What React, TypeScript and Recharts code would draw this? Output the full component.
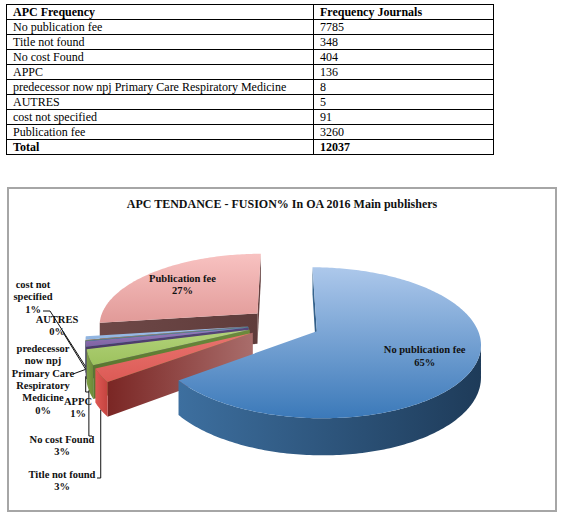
import React from "react"
import { PieChart, Pie } from "recharts"

// table / chart data
const categories = [
  "No publication fee",
  "Title not found",
  "No cost Found",
  "APPC",
  "predecessor now npj Primary Care Respiratory Medicine",
  "AUTRES",
  "cost not specified",
  "Publication fee",
]
const journals = [7785, 348, 404, 136, 8, 5, 91, 3260]
const total = 12037

// how each slice label is wrapped on the chart
const sliceLabelLines = [
  ["No publication fee"],
  ["Title not found"],
  ["No cost Found"],
  ["APPC"],
  ["predecessor", "now npj", "Primary Care", "Respiratory", "Medicine"],
  ["AUTRES"],
  ["cost not", "specified"],
  ["Publication fee"],
]

// slice colours: top gradient (light, dark), outer wall, cut face
const TOP = [
  ["#adc8eb", "#3b79b9"],
  ["#e8746f", "#dc5a55"],
  ["#b2d27a", "#9dc25e"],
  ["#9a80bd", "#7e62a2"],
  ["#5fb8d0", "#4babc5"],
  ["#f9a45e", "#f79646"],
  ["#a3c2e8", "#8eb3e0"],
  ["#f8c2c1", "#e19a98"],
]
const WALL = [
  ["#3d6f9f", "#1e3b59"],
  ["#de5954", "#c4433f"],
  ["#7f9f46", "#6c8a39"],
  ["#5e4a7d", "#52406e"],
  ["#31859c", "#2b7488"],
  ["#b66d31", "#a5622b"],
  ["#5f83ae", "#52739b"],
  ["#c07d7c", "#a96a69"],
]
const FACE = [
  ["#3a6891", "#2f5a84"],
  ["#7a2624", "#a96d6b"],
  ["#5a7730", "#6b8a3c"],
  ["#4a3a66", "#57467a"],
  ["#2b7488", "#31859c"],
  ["#a5622b", "#b66d31"],
  ["#4a6a92", "#5a7ca6"],
  ["#6e4847", "#5f3c3b"],
]

// where the outside labels sit (first baseline) and where their leader starts
const OUTSIDE: Record<number, { x: number; y: number; from: number[]; kind: string }> = {
  1: { x: 62, y: 478, from: [97, 478], kind: "elbow" },
  2: { x: 62, y: 443, from: [92, 436], kind: "elbow" },
  3: { x: 78, y: 405, from: [89, 392], kind: "elbow" },
  4: { x: 43, y: 352, from: [73, 374], kind: "line" },
  5: { x: 57, y: 323, from: [64, 334], kind: "line" },
  6: { x: 33, y: 288, from: [43, 311], kind: "stub" },
}

// 3D look: camera distance (in radii), tilt, wall height, explode
const CAM_D = 6.7
const TILT = 0.45
const DEPTH = 31
const EXPLODE = 0.227
const LINE_H = 12.3
const FONT = '"Liberation Serif", "Times New Roman", serif'

const rad = (d: number) => (d * Math.PI) / 180
const pathOf = (pts: number[][]) =>
  "M" + pts.map((p) => `${p[0].toFixed(2)},${p[1].toFixed(2)}`).join(" L") + " Z"

function geometry(props: any) {
  const { cx, cy, outerRadius: S, startAngle, endAngle } = props
  const sA = Math.min(startAngle, endAngle)
  const eA = Math.max(startAngle, endAngle)
  const mid = (sA + eA) / 2
  const o = [EXPLODE * Math.cos(rad(mid)), -EXPLODE * Math.sin(rad(mid))]
  const ground = (deg: number, r = 1) => [o[0] + r * Math.cos(rad(deg)), o[1] - r * Math.sin(rad(deg))]
  const proj = (g: number[], z = 0) => {
    const w = CAM_D / (CAM_D - g[1])
    return [cx + S * g[0] * w, cy + (S * TILT * g[1] + DEPTH * z) * w]
  }
  const seen = (g: number[], n: number[]) => n[0] * (0 - g[0]) + n[1] * (CAM_D - g[1]) > 0
  return { sA, eA, mid, o, ground, proj, seen }
}

function Slice3D(props: any) {
  const i: number = props.payload?.idx ?? props.idx
  const { sA, eA, o, ground, proj, seen } = geometry(props)

  const steps = Math.max(2, Math.ceil(eA - sA))
  const angles = Array.from({ length: steps + 1 }, (_, k) => sA + ((eA - sA) * k) / steps)

  const top = pathOf([proj(o), ...angles.map((a) => proj(ground(a)))])

  // outer curved wall, only the runs that face the camera
  const walls: string[] = []
  let run: number[] = []
  const flush = () => {
    if (run.length > 1) {
      const up = run.map((a) => proj(ground(a)))
      const down = run.map((a) => proj(ground(a), 1)).reverse()
      walls.push(pathOf([...up, ...down]))
    }
    run = []
  }
  angles.forEach((a) => {
    if (seen(ground(a), [Math.cos(rad(a)), -Math.sin(rad(a))])) run.push(a)
    else flush()
  })
  flush()

  // flat cut faces along both radii
  const faces: string[] = []
  const face = (a: number, nDeg: number) => {
    if (seen(o, [Math.cos(rad(nDeg)), -Math.sin(rad(nDeg))]))
      faces.push(pathOf([proj(o), proj(ground(a)), proj(ground(a), 1), proj(o, 1)]))
  }
  face(sA, sA - 90)
  face(eA, eA + 90)

  return (
    <g>
      <defs>
        <linearGradient id={`top${i}`} x1="0" y1="0" x2="0" y2="1">
          <stop offset="0%" stopColor={TOP[i][0]} />
          <stop offset="100%" stopColor={TOP[i][1]} />
        </linearGradient>
        <linearGradient id={`wall${i}`} x1="0" y1="0" x2="1" y2="0">
          <stop offset="0%" stopColor={WALL[i][0]} />
          <stop offset="100%" stopColor={WALL[i][1]} />
        </linearGradient>
        <linearGradient id={`face${i}`} x1="0" y1="0" x2="1" y2="0">
          <stop offset="0%" stopColor={FACE[i][0]} />
          <stop offset="100%" stopColor={FACE[i][1]} />
        </linearGradient>
      </defs>
      {faces.map((d, k) => (
        <path key={`f${k}`} d={d} fill={`url(#face${i})`} />
      ))}
      {walls.map((d, k) => (
        <path key={`w${k}`} d={d} fill={`url(#wall${i})`} />
      ))}
      <path d={top} fill={`url(#top${i})`} />
    </g>
  )
}

function SliceLabel(props: any) {
  const i: number = props.payload?.idx ?? props.idx
  const { mid, o, ground, proj } = geometry(props)
  const pct = `${Math.round(props.percent * 100)}%`
  const lines = [...sliceLabelLines[i], pct]

  if (props.percent > 0.1) {
    const g = [o[0] + 0.7 * Math.cos(rad(mid)), o[1] - 0.7 * Math.sin(rad(mid))]
    const [lx, ly] = proj(g)
    return (
      <text x={lx} textAnchor="middle" fontFamily={FONT} fontWeight="bold" fontSize={10.5} fill="#111">
        {lines.map((t, k) => (
          <tspan key={k} x={lx} y={ly - 2 + k * LINE_H}>{t}</tspan>
        ))}
      </text>
    )
  }

  const L = OUTSIDE[i]
  const tip = proj(ground(mid), L.kind === "elbow" ? 1 : 0.9)
  let d = `M${L.from[0]},${L.from[1]} L${tip[0].toFixed(2)},${tip[1].toFixed(2)}`
  if (L.kind === "elbow")
    d = `M${L.from[0]},${L.from[1]} L${tip[0].toFixed(2)},${L.from[1]} L${tip[0].toFixed(2)},${tip[1].toFixed(2)}`
  if (L.kind === "stub")
    d = `M${L.from[0]},${L.from[1]} L${L.from[0] + 7},${L.from[1]} L${tip[0].toFixed(2)},${tip[1].toFixed(2)}`
  return (
    <g>
      <path d={d} stroke="#111" strokeWidth={1} fill="none" />
      <text x={L.x} textAnchor="middle" fontFamily={FONT} fontWeight="bold" fontSize={10.5} fill="#111">
        {lines.map((t, k) => (
          <tspan key={k} x={L.x} y={L.y + k * LINE_H}>{t}</tspan>
        ))}
      </text>
    </g>
  )
}

const cell: React.CSSProperties = {
  border: "1px solid #000",
  padding: "0 0 0 6px",
  height: 14,
  lineHeight: "14px",
  textAlign: "left",
  whiteSpace: "nowrap",
}

export default function App() {
  // slices are painted back to front, so the pie runs the other way round
  const pieData = categories
    .map((name, idx) => ({ name, value: journals[idx], idx }))
    .reverse()

  return (
    <div style={{ position: "absolute", left: 0, top: 0, width: 567, height: 522, background: "#fff", fontFamily: FONT }}>
      <table
        style={{
          position: "absolute",
          left: 6,
          top: 4,
          width: 487,
          borderCollapse: "collapse",
          tableLayout: "fixed",
          fontSize: 12,
          color: "#000",
        }}
      >
        <colgroup>
          <col style={{ width: 307 }} />
          <col style={{ width: 180 }} />
        </colgroup>
        <tbody>
          <tr>
            <th style={cell}>APC Frequency</th>
            <th style={cell}>Frequency Journals</th>
          </tr>
          {categories.map((c, i) => (
            <tr key={c}>
              <td style={cell}>{c}</td>
              <td style={cell}>{journals[i]}</td>
            </tr>
          ))}
          <tr>
            <td style={{ ...cell, fontWeight: "bold" }}>Total</td>
            <td style={{ ...cell, fontWeight: "bold" }}>{total}</td>
          </tr>
        </tbody>
      </table>

      <div
        style={{
          position: "absolute",
          left: 7,
          top: 187,
          width: 550,
          height: 325,
          boxSizing: "border-box",
          border: "2px solid #a6a6a6",
        }}
      />
      <div
        style={{
          position: "absolute",
          left: 7,
          top: 197,
          width: 550,
          textAlign: "center",
          fontWeight: "bold",
          fontSize: 12,
          lineHeight: "14px",
          color: "#111",
        }}
      >
        APC TENDANCE - FUSION% In OA 2016 Main publishers
      </div>

      <div style={{ position: "absolute", left: 0, top: 0 }}>
        <PieChart width={567} height={522} margin={{ top: 0, right: 0, bottom: 0, left: 0 }}>
          <Pie
            data={pieData}
            dataKey="value"
            nameKey="name"
            cx={284}
            cy={324}
            outerRadius={159}
            startAngle={90}
            endAngle={450}
            fill="none"
            stroke="none"
            label={Slice3D}
            labelLine={false}
            isAnimationActive={false}
          />
          <Pie
            data={pieData}
            dataKey="value"
            nameKey="name"
            cx={284}
            cy={324}
            outerRadius={159}
            startAngle={90}
            endAngle={450}
            fill="none"
            stroke="none"
            label={SliceLabel}
            labelLine={false}
            isAnimationActive={false}
          />
        </PieChart>
      </div>
    </div>
  )
}
